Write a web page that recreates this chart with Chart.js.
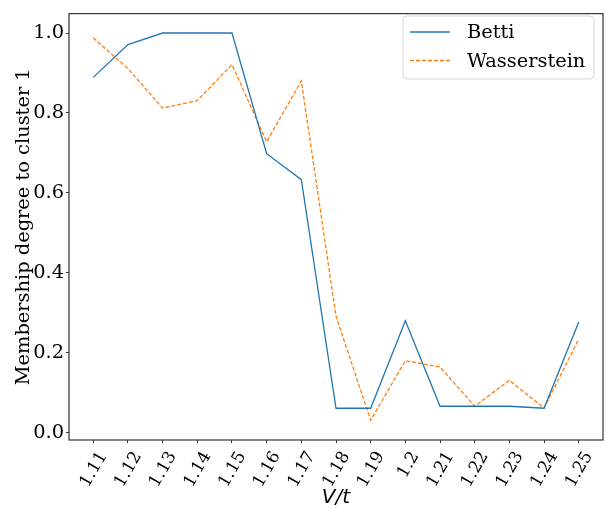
<!DOCTYPE html>
<html>
<head>
<meta charset="utf-8">
<script src="https://cdn.jsdelivr.net/npm/chart.js@4"></script>
<style>
  html, body { margin: 0; padding: 0; background: #fff; }
</style>
</head>
<body>
<canvas id="membershipChart" width="606" height="508"></canvas>
<script>
// data
const vtLabels = ['1.11', '1.12', '1.13', '1.14', '1.15', '1.16', '1.17', '1.18',
                  '1.19', '1.2', '1.21', '1.22', '1.23', '1.24', '1.25'];
const betti = [0.889, 0.971, 1.0, 1.0, 1.0, 0.698, 0.633, 0.061,
               0.061, 0.280, 0.066, 0.066, 0.066, 0.061, 0.277];
const wasserstein = [0.988, 0.911, 0.812, 0.831, 0.921, 0.728, 0.880, 0.291,
                     0.031, 0.180, 0.164, 0.066, 0.131, 0.061, 0.234];
const yTicks = [0.0, 0.2, 0.4, 0.6, 0.8, 1.0];

const SERIF = '"DejaVu Serif", serif';
const SPINE = '#333';

// frame + boxed legend inside the plot, matplotlib style
const framePlugin = {
    id: 'frame',
    afterDraw(chart) {
        const { ctx, chartArea: a } = chart;
        ctx.save();
        ctx.strokeStyle = SPINE;
        ctx.lineWidth = 1.2;
        ctx.strokeRect(a.left, a.top, a.right - a.left, a.bottom - a.top);

        // legend box
        const bx = 403, by = 16, bw = 191, bh = 63, r = 4;
        ctx.beginPath();
        ctx.moveTo(bx + r, by);
        ctx.arcTo(bx + bw, by, bx + bw, by + bh, r);
        ctx.arcTo(bx + bw, by + bh, bx, by + bh, r);
        ctx.arcTo(bx, by + bh, bx, by, r);
        ctx.arcTo(bx, by, bx + bw, by, r);
        ctx.closePath();
        ctx.fillStyle = 'rgba(255,255,255,0.8)';
        ctx.fill();
        ctx.strokeStyle = '#d6d6d6';
        ctx.lineWidth = 1;
        ctx.stroke();

        chart.data.datasets.forEach((ds, i) => {
            const y = 32 + i * 28.5;
            ctx.beginPath();
            ctx.setLineDash(ds.borderDash || []);
            ctx.strokeStyle = ds.borderColor;
            ctx.lineWidth = ds.borderWidth;
            ctx.moveTo(410, y);
            ctx.lineTo(450, y);
            ctx.stroke();
            ctx.setLineDash([]);
            ctx.fillStyle = '#000';
            ctx.font = '19.4px ' + SERIF;
            ctx.textBaseline = 'middle';
            ctx.textAlign = 'left';
            ctx.fillText(ds.label, 467, y + 1);
        });
        ctx.restore();
    }
};

new Chart(document.getElementById('membershipChart'), {
    type: 'line',
    data: {
        datasets: [
            {
                label: 'Betti',
                data: betti.map((v, i) => ({ x: i, y: v })),
                borderColor: '#1f77b4',
                borderWidth: 1.3,
                pointRadius: 0,
                tension: 0,
                fill: false
            },
            {
                label: 'Wasserstein',
                data: wasserstein.map((v, i) => ({ x: i, y: v })),
                borderColor: '#ff7f0e',
                borderWidth: 1.3,
                borderDash: [4, 2],
                pointRadius: 0,
                tension: 0,
                fill: false
            }
        ]
    },
    options: {
        responsive: false,
        animation: false,
        devicePixelRatio: 1,
        layout: { padding: { left: 0, top: 6, right: 3, bottom: 0 } },
        plugins: {
            legend: { display: false },
            tooltip: { enabled: false }
        },
        scales: {
            x: {
                type: 'linear',
                min: -0.7,
                max: 14.7,
                afterBuildTicks: scale => {
                    scale.ticks = vtLabels.map((l, i) => ({ value: i }));
                },
                afterFit: scale => { scale.height = 68; },
                grid: {
                    drawOnChartArea: false,
                    drawTicks: true,
                    tickLength: 3,
                    color: SPINE
                },
                border: { display: false },
                ticks: {
                    autoSkip: false,
                    minRotation: 60,
                    maxRotation: 60,
                    padding: 5,
                    labelOffset: 10,
                    color: '#000',
                    font: { family: SERIF, size: 17 },
                    callback: value => vtLabels[value]
                },
                title: {
                    display: true,
                    text: 'V/t',
                    color: '#000',
                    font: { family: '"DejaVu Sans", sans-serif', size: 20, style: 'italic', lineHeight: 1.0 },
                    padding: { top: 0, bottom: 0 }
                }
            },
            y: {
                min: -0.0185,
                max: 1.0485,
                afterBuildTicks: scale => {
                    scale.ticks = yTicks.map(v => ({ value: v }));
                },
                afterFit: scale => { scale.width = 69; },
                grid: {
                    drawOnChartArea: false,
                    drawTicks: true,
                    tickLength: 3,
                    color: SPINE
                },
                border: { display: false },
                ticks: {
                    padding: 2,
                    color: '#000',
                    font: { family: SERIF, size: 19.4 },
                    callback: value => value.toFixed(1)
                },
                title: {
                    display: true,
                    text: 'Membership degree to cluster 1',
                    color: '#000',
                    font: { family: SERIF, size: 19.4, lineHeight: 1.2 },
                    padding: { top: 12, bottom: 0 }
                }
            }
        }
    },
    plugins: [framePlugin]
});
</script>
</body>
</html>
